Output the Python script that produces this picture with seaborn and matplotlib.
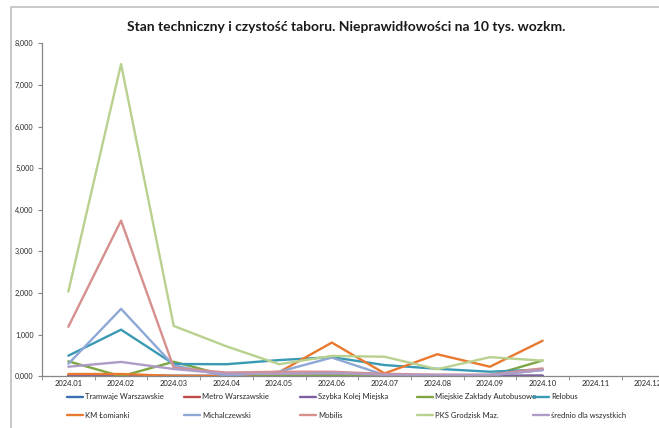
import numpy as np
import pandas as pd
import matplotlib
matplotlib.use('Agg')
import matplotlib.pyplot as plt
from matplotlib.lines import Line2D
from matplotlib.patches import Rectangle
from matplotlib.ticker import FuncFormatter, FixedLocator
import seaborn as sns

# months on the category axis (data only up to 2024.10)
months = ['2024.01', '2024.02', '2024.03', '2024.04', '2024.05', '2024.06',
          '2024.07', '2024.08', '2024.09', '2024.10', '2024.11', '2024.12']

series_names = ['Tramwaje Warszawskie', 'Metro Warszawskie', 'Szybka Kolej Miejska',
                'Miejskie Zakłady Autobusowe', 'Relobus', 'KM Łomianki',
                'Michalczewski', 'Mobilis', 'PKS Grodzisk Maz.', 'średnio dla wszystkich']

tramwaje = [20, 25, 10, 10, 10, 15, 10, 10, 10, 15]
metro = [5, 5, 5, 5, 5, 5, 5, 5, 5, 5]
skm = [10, 10, 5, 5, 5, 5, 5, 5, 5, 10]
mza = [360, 0, 350, 15, 10, 10, 10, 10, 10, 380]
relobus = [495, 1120, 295, 290, 390, 460, 270, 180, 110, 165]
km_lomianki = [55, 55, 10, 5, 100, 810, 70, 530, 230, 855]
michalczewski = [300, 1620, 260, 10, 110, 450, 30, 20, 20, 150]
mobilis = [1190, 3740, 205, 90, 110, 110, 60, 40, 40, 190]
pks_grodzisk = [2035, 7500, 1210, 720, 290, 490, 470, 170, 460, 375]
srednio = [230, 345, 175, 60, 60, 80, 35, 30, 30, 150]

colors = ['#3C6EB4', '#BE4B48', '#7D5FA0', '#7EA542', '#3A9AB4',
          '#E8792F', '#8EA8D6', '#D68F8D', '#B9D18F', '#AE9CC6']

all_values = [tramwaje, metro, skm, mza, relobus, km_lomianki,
              michalczewski, mobilis, pks_grodzisk, srednio]

rows = []
for name, vals in zip(series_names, all_values):
    for i, v in enumerate(vals):
        rows.append({'idx': i, 'miesiac': months[i], 'seria': name, 'wartosc': v})
df = pd.DataFrame(rows)

sns.set_style('white')
plt.rcParams['font.family'] = ['Lato', 'DejaVu Sans']

fig = plt.figure(figsize=(6.59, 4.28), dpi=100)
W, H = 659, 428
ax = fig.add_axes([42 / W, 1 - 376.3 / H, 12 * 52.7 / W, 333 / H])

palette = dict(zip(series_names, colors))
sns.lineplot(data=df, x='idx', y='wartosc', hue='seria', hue_order=series_names,
             palette=palette, linewidth=1.7, legend=False, ax=ax, sort=False)

ax.set_xlim(-0.5, len(months) - 0.5)
ax.set_ylim(0, 8000)
ax.set_xticks(range(len(months)))
ax.set_xticklabels(months, fontsize=5.5, color='#262626')
ax.xaxis.set_minor_locator(FixedLocator(np.arange(-0.5, len(months), 1)))
ax.tick_params(axis='x', which='major', length=0, pad=3)
ax.tick_params(axis='x', which='minor', length=3, direction='out', color='#868686', bottom=True)
ax.set_yticks(np.arange(0, 8001, 1000))
ax.yaxis.set_major_formatter(FuncFormatter(lambda v, p: f'{v / 1000:.3f}'.replace('.', ',')))
ax.tick_params(axis='y', length=3, direction='out', color='#868686', labelsize=5.2,
               labelcolor='#262626', left=True, pad=3)
ax.set_xlabel('')
ax.set_ylabel('')
for s in ['top', 'right']:
    ax.spines[s].set_visible(False)
for s in ['left', 'bottom']:
    ax.spines[s].set_color('#868686')
    ax.spines[s].set_linewidth(0.9)

fig.text(346 / W, 1 - 27 / H,
         'Stan techniczny i czystość taboru. Nieprawidłowości na 10 tys. wozkm.',
         ha='center', va='center', fontsize=10, fontweight='bold', color='#1a1a1a')

# chart border (cut off on the right and bottom)
fig.patches.append(Rectangle((11 / W, -0.1), 1.2, 1.1 - 7 / H, transform=fig.transFigure,
                             fill=False, edgecolor='#BFBFBF', linewidth=1.2))

# legend: 2 rows x 5 evenly spaced columns
for c in range(5):
    handles = []
    labels = []
    for k in (c, c + 5):
        handles.append(Line2D([], [], color=colors[k], linewidth=1.7))
        labels.append(series_names[k])
    fig.legend(handles, labels, loc='center left',
               bbox_to_anchor=((67 + 116.5 * c) / W, 1 - 406 / H),
               frameon=False, fontsize=5.5, handlelength=2.1, handletextpad=0.3,
               labelspacing=1.5, borderpad=0, borderaxespad=0)

fig.savefig('out.png', dpi=100)
